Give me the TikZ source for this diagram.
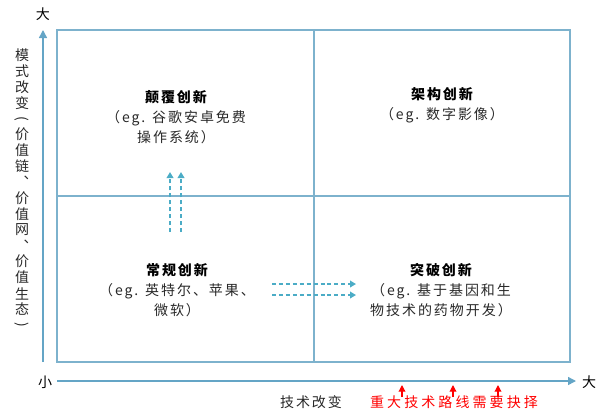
\documentclass[tikz,border=0pt]{standalone}
\usepackage{fontspec}
\newfontfamily\cjk{Noto Sans CJK SC}
\usetikzlibrary{arrows.meta}

\definecolor{framecol}{RGB}{125,178,205}
\definecolor{axiscol}{RGB}{100,165,198}
\definecolor{dashcol}{RGB}{75,172,198}
\definecolor{txtcol}{RGB}{40,40,40}

\tikzset{
	quad/.style={align=center, text=txtcol, inner sep=0pt,
		font=\cjk\addfontfeature{LetterSpace=14}\fontsize{10.5}{15}\selectfont},
	vchar/.style={inner sep=0pt, text=txtcol, font=\cjk\fontsize{10.5}{12}\selectfont},
	axislabel/.style={inner sep=0pt, font=\cjk\fontsize{10.5}{12}\selectfont},
	dasharrow/.style={dashcol, line width=1.1pt, dash pattern=on 3pt off 2.2pt,
		-{Triangle[length=4.5pt,width=5pt]}},
	redarrow/.style={red, line width=0.9pt, -{Triangle[length=5pt,width=5pt]}}
}

\begin{document}
\begin{tikzpicture}[x=0.75pt, y=-0.75pt]
	\useasboundingbox (0,0) rectangle (600,415);

	% frame and quadrants
	\draw[framecol, line width=1pt] (57,30) rectangle (570,362);
	\draw[framecol, line width=1pt] (314,30) -- (314,362);
	\draw[framecol, line width=1pt] (57,196) -- (570,196);

	% axes
	\coordinate (ylow) at (43,362);
	\coordinate (ytop) at (43,30);
	\coordinate (xleft) at (57,381);
	\coordinate (xright) at (576,381);
	\draw[axiscol, line width=1.1pt, -{Triangle[length=6pt,width=6pt]}] (ylow) -- (ytop);
	\draw[axiscol, line width=1.1pt, -{Triangle[length=6pt,width=6pt]}] (xleft) -- (xright);

	\node[axislabel] (ybig) at (43,14) {大};
	\node[axislabel] (small) at (45,382) {小};
	\node[axislabel] (xbig) at (589,382) {大};

	% vertical axis title
	\foreach \c [count=\i from 0] in {模,式,改,变,{},价,值,链,︑,价,值,网,︑,价,值,生,态,{}}
		\node[vchar] (v\i) at (22, 55+15.9*\i) {\c};
	\node[vchar, rotate=-90] (vopen) at (v4) {(};
	\node[vchar, rotate=-90] (vclose) at (v17) {)};

	% quadrants
	\node[quad] (disrupt) at (176,117) {{\bfseries\color{black}颠覆创新}\\（eg. 谷歌安卓免费\\操作系统）};
	\node[quad] (arch) at (442,105) {{\bfseries\color{black}架构创新}\\（eg. 数字影像）};
	\node[quad] (routine) at (177,290) {{\bfseries\color{black}常规创新}\\（eg. 英特尔、苹果、\\微软）};
	\node[quad] (breakthru) at (441,290) {{\bfseries\color{black}突破创新}\\（eg. 基于基因和生\\物技术的药物开发）};

	% dashed moves
	\foreach \x [count=\i] in {170,181} {
		\coordinate (up\i a) at (\x,232);
		\coordinate (up\i b) at (\x,172);
		\draw[dasharrow] (up\i a) -- (up\i b);
	}
	\foreach \y [count=\i] in {284,295} {
		\coordinate (rt\i a) at (272,\y);
		\coordinate (rt\i b) at (356,\y);
		\draw[dasharrow] (rt\i a) -- (rt\i b);
	}

	% bottom texts
	\node[quad] (xlabel) at (311,402) {技术改变};
	\node[quad, text=red, font=\cjk\addfontfeature{LetterSpace=22}\fontsize{10.5}{12}\selectfont] (choice) at (454,402) {重大技术路线需要抉择};
	\foreach \x [count=\i] in {402,453,498} {
		\coordinate (ch\i) at (\x,397);
		\coordinate (ct\i) at (\x,385);
		\draw[redarrow] (ch\i) -- (ct\i);
	}
\end{tikzpicture}
\end{document}
